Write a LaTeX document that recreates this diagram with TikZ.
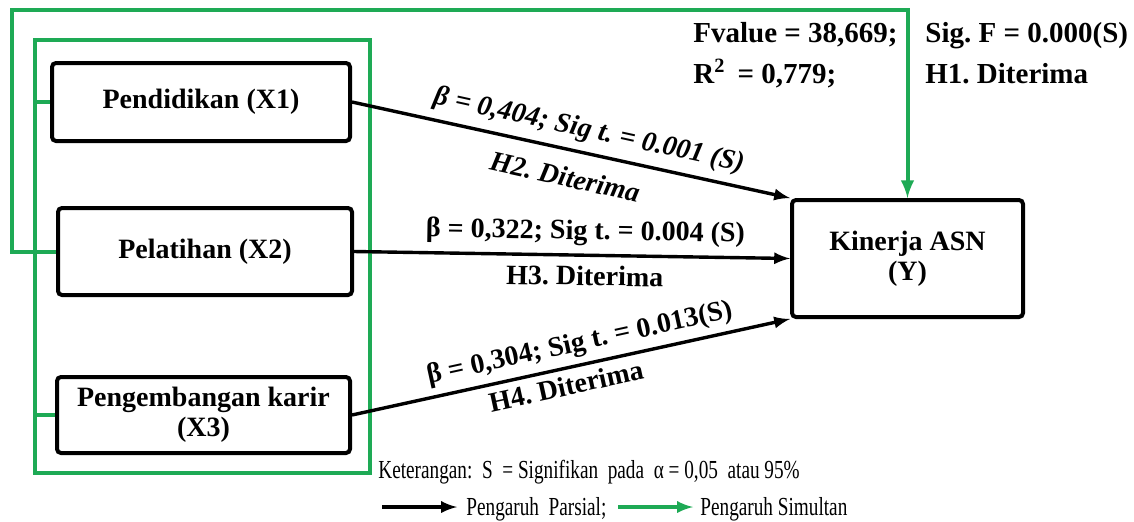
\documentclass[tikz,border=0pt]{standalone}
\usepackage{fontspec}
\setmainfont{Liberation Serif}
\usetikzlibrary{calc}
\usetikzlibrary{arrows}
\definecolor{simgreen}{RGB}{30,170,85}

\begin{document}
\frenchspacing
\begin{tikzpicture}[x=0.5pt,y=-0.5pt,
     var/.style={draw,line width=2pt,rounded corners=2pt,align=center,
       inner sep=0pt,font=\fontsize{14}{15}\selectfont\bfseries},
     partial/.style={line width=1.7pt,-latex},
     simul/.style={draw=simgreen,line width=2pt},
     est/.style={sloped,inner sep=3pt,font=\fontsize{14}{15}\selectfont\bfseries},
     slant/.style={est,font=\fontsize{14}{15}\selectfont\bfseries\itshape},
     stat/.style={anchor=base west,inner sep=0pt,font=\fontsize{14.5}{15}\selectfont\bfseries},
     note/.style={anchor=base west,inner sep=0pt,font=\fontsize{13}{14}\selectfont}
   ]
   \path[use as bounding box] (0,0) rectangle (1134,521);
   % Variables.
   \node[var,minimum width=149pt,minimum height=39pt] (x1) at (201,102) {Pendidikan (X1)};
   \node[var,minimum width=147pt,minimum height=43.5pt] (x2) at (205,251.5) {Pelatihan (X2)};
   \node[var,minimum width=146.5pt,minimum height=38pt] (x3) at (203.5,415) {Pengembangan karir\\(X3)};
   \node[var,minimum width=115.5pt,minimum height=58.5pt] (y) at (907.5,258.5) {Kinerja ASN\\(Y)};
   % Simultaneous effect.
   \coordinate (frame) at (35,40);
   \coordinate (outer) at (12,10);
   \draw[simul] (frame) rectangle (370,473);
   \draw[simul] (x1.west) -- (x1.west -| frame);
   \draw[simul] (x2.west) -- (x2.west -| frame);
   \draw[simul] (x3.west) -- (x3.west -| frame);
   \draw[simul,-latex] (x2.west) -| (outer) -| (y.north);
   % Partial effects.
   \draw[partial] (x1.east) --
     node[slant,above=1pt,pos=0.53] {β = 0,404; Sig t. = 0.001 (S)}
     node[slant,below=5pt,pos=0.5] {H2. Diterima} (y.north west);
   \draw[partial] (x2.east) --
     node[est,above=1pt,pos=0.53] {β = 0,322; Sig t. = 0.004 (S)}
     node[est,below=1.5pt,pos=0.53] {H3. Diterima} (y.west);
   \draw[partial] (x3.east) --
     node[est,above,pos=0.53] {β = 0,304; Sig t. = 0.013(S)}
     node[est,below,pos=0.48] {H4. Diterima} (y.south west);
   % Simultaneous test.
   \node[stat] (fval) at (693,42) {Fvalue = 38,669;};
   \node[stat] (sigf) at (925,42) {Sig. F = 0.000(S)};
   \node[stat] (rsq) at (693,83) {R\textsuperscript{2}\, = 0,779;};
   \node[stat] (h1) at (925,83) {H1. Diterima};
   % Legend.
   \node[note] (ket) at (378,478) {\scalebox{0.74}[1]{Keterangan:\ \ S \ = Signifikan\ \ pada\ \ α = 0,05\ \ atau 95\%}};
   \node[note] (parsial) at (466,515) {\scalebox{0.74}[1]{Pengaruh\ \ Parsial;}};
   \node[note] (simultan) at (700,515) {\scalebox{0.74}[1]{Pengaruh Simultan}};
   \coordinate (lp) at (382,507);
   \coordinate (ls) at (618,507);
   \draw[partial,shorten >=4.5pt] (lp) -- (parsial.west |- lp);
   \draw[simul,-latex,line width=1.7pt,shorten >=3.5pt] (ls) -- (simultan.west |- ls);
\end{tikzpicture}
\end{document}
